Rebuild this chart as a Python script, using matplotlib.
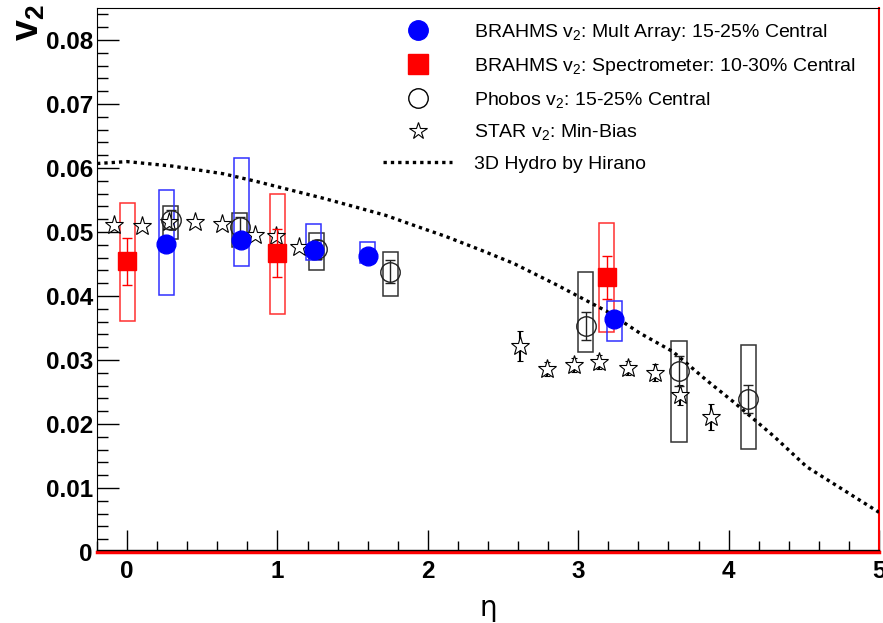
import numpy as np
import matplotlib
matplotlib.use('Agg')
import matplotlib.pyplot as plt
from matplotlib.lines import Line2D
from matplotlib.ticker import MultipleLocator

plt.rcParams['font.family'] = ['Liberation Sans', 'DejaVu Sans']
plt.rcParams['mathtext.fontset'] = 'custom'
plt.rcParams['mathtext.rm'] = 'Liberation Sans'
plt.rcParams['mathtext.it'] = 'Liberation Sans'
plt.rcParams['mathtext.bf'] = 'Liberation Sans:bold'

# BRAHMS multiplicity array (15-25% central)
ma_eta = [0.26, 0.76, 1.24, 1.60, 3.24]
ma_v2 = [0.0482, 0.0488, 0.0472, 0.0462, 0.0364]
ma_err = [0.0008, 0.0008, 0.0008, 0.0008, 0.0008]
ma_sys_lo = [0.0401, 0.0447, 0.0456, 0.0451, 0.0329]
ma_sys_hi = [0.0566, 0.0615, 0.0512, 0.0485, 0.0392]

# BRAHMS spectrometer (10-30% central)
sp_eta = [0.0, 1.0, 3.19]
sp_v2 = [0.0454, 0.0467, 0.0429]
sp_err = [0.0037, 0.0037, 0.0034]
sp_sys_lo = [0.0361, 0.0372, 0.0343]
sp_sys_hi = [0.0545, 0.0559, 0.0514]

# Phobos (15-25% central)
ph_eta = [0.29, 0.75, 1.26, 1.75, 3.05, 3.67, 4.13]
ph_v2 = [0.0519, 0.0508, 0.0473, 0.0438, 0.0353, 0.0283, 0.0239]
ph_err = [0.0015, 0.0015, 0.0015, 0.0018, 0.0022, 0.0023, 0.0022]
ph_sys_lo = [0.0489, 0.0477, 0.0441, 0.0400, 0.0313, 0.0172, 0.0161]
ph_sys_hi = [0.0541, 0.0529, 0.0499, 0.0468, 0.0438, 0.0330, 0.0323]

# STAR min-bias
st_eta = [-0.09, 0.10, 0.28, 0.45, 0.63, 0.85, 0.99, 1.14,
          2.61, 2.79, 2.97, 3.14, 3.33, 3.51, 3.68, 3.88]
st_v2 = [0.0511, 0.0509, 0.0515, 0.0516, 0.0512, 0.0495, 0.0493, 0.0476,
         0.0322, 0.0286, 0.0292, 0.0297, 0.0287, 0.0280, 0.0245, 0.0211]
st_err = [0.0003, 0.0003, 0.0003, 0.0003, 0.0003, 0.0003, 0.0003, 0.0003,
          0.0023, 0.0011, 0.0011, 0.0011, 0.0011, 0.0013, 0.0016, 0.0020]

# 3D hydro (Hirano)
hy_eta = [-0.2, 0.0, 0.3, 0.64, 0.86, 1.08, 1.30, 1.52, 1.72, 1.90, 2.12,
          2.35, 2.57, 2.86, 3.19, 3.41, 3.63, 3.85, 4.03, 4.30, 4.52, 4.75, 5.0]
hy_v2 = [0.0607, 0.0610, 0.0603, 0.0591, 0.0579, 0.0566, 0.0553, 0.0539,
         0.0526, 0.0511, 0.0493, 0.0472, 0.0451, 0.0417, 0.0376, 0.0342,
         0.0313, 0.0269, 0.0235, 0.0181, 0.0133, 0.0099, 0.0062]

labels = ['BRAHMS v$_2$: Mult Array: 15-25% Central',
          'BRAHMS v$_2$: Spectrometer: 10-30% Central',
          'Phobos v$_2$: 15-25% Central',
          'STAR v$_2$: Min-Bias',
          '3D Hydro by Hirano']

fig = plt.figure(figsize=(8.83, 6.23), dpi=100)
ax = fig.add_axes([97 / 883, 71 / 623, 782 / 883, 544 / 623])

# systematic boxes
def sys_boxes(eta, lo, hi, col):
    lo = np.array(lo)
    hi = np.array(hi)
    ax.bar(eta, hi - lo, width=0.1, bottom=lo, fill=False,
           edgecolor=col, linewidth=1.1, zorder=2)

sys_boxes(ph_eta, ph_sys_lo, ph_sys_hi, '#333333')
sys_boxes(sp_eta, sp_sys_lo, sp_sys_hi, '#ff3030')
sys_boxes(ma_eta, ma_sys_lo, ma_sys_hi, '#3030ff')

ax.plot(hy_eta, hy_v2, color='black', lw=2.4, linestyle=(0, (1, 1.2)), zorder=3)

ax.errorbar(st_eta, st_v2, yerr=st_err, fmt='*', ms=14, mfc='white',
            mec='black', mew=0.8, ecolor='black', elinewidth=1.5,
            capsize=2, capthick=2, zorder=4)
ax.errorbar(ph_eta, ph_v2, yerr=ph_err, fmt='o', ms=14, mfc='none',
            mec='#222222', mew=1.0, ecolor='#222222', elinewidth=1,
            capsize=3.5, zorder=5)
ax.errorbar(sp_eta, sp_v2, yerr=sp_err, fmt='s', ms=13, color='red',
            ecolor='red', elinewidth=1, capsize=3.5, zorder=6)
ax.errorbar(ma_eta, ma_v2, yerr=ma_err, fmt='o', ms=13.5, color='blue',
            ecolor='blue', elinewidth=1, capsize=3, zorder=7)

ax.set_xlim(-0.2, 5.0)
ax.set_ylim(0, 0.085)
ax.xaxis.set_major_locator(MultipleLocator(1))
ax.xaxis.set_minor_locator(MultipleLocator(0.2))
ax.yaxis.set_major_locator(MultipleLocator(0.01))
ax.yaxis.set_minor_locator(MultipleLocator(0.002))
ax.yaxis.set_major_formatter(plt.FuncFormatter(lambda v, p: '0' if v == 0 else '%.2f' % v))
ax.tick_params(which='both', direction='in', width=1, top=False, right=False)
ax.tick_params(which='major', length=16, labelsize=17.5)
ax.tick_params(axis='x', which='major', pad=6)
ax.tick_params(axis='y', which='major', pad=3)
ax.tick_params(which='minor', length=8)
for lab in ax.get_xticklabels() + ax.get_yticklabels():
    lab.set_fontweight('bold')

ax.spines['right'].set_color('red')
ax.spines['right'].set_linewidth(1.5)
ax.spines['bottom'].set_color('red')
ax.spines['bottom'].set_linewidth(2.5)
ax.axhline(0.0003, color='black', lw=1, zorder=8, clip_on=False)

fig.text(0.033, 0.993, 'v$_\\mathbf{2}$', rotation=90, ha='center', va='top',
         fontsize=27, fontweight='bold')
ax.set_xlabel('η', fontsize=20, labelpad=8, family='DejaVu Sans')

handles = [
    Line2D([], [], ls='none', marker='o', ms=14, color='blue'),
    Line2D([], [], ls='none', marker='s', ms=14, color='red'),
    Line2D([], [], ls='none', marker='o', ms=14, mfc='none', mec='black', mew=1),
    Line2D([], [], ls='none', marker='*', ms=13, mfc='white', mec='black', mew=0.8),
    Line2D([], [], color='black', lw=2.4, linestyle=(0, (1, 1.2))),
]
ax.legend(handles, labels, loc='upper left', bbox_to_anchor=(0.366, 0.974),
          frameon=False, fontsize=14, handlelength=3.55, handletextpad=1.13,
          labelspacing=0.655, borderpad=0, borderaxespad=0)

fig.savefig('out.png', dpi=100)
